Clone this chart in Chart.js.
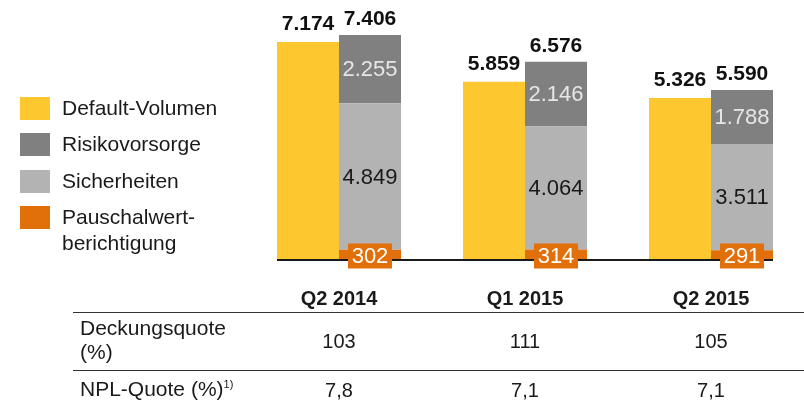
<!DOCTYPE html>
<html>
<head>
<meta charset="utf-8">
<script src="https://cdn.jsdelivr.net/npm/chart.js@4/dist/chart.umd.min.js"></script>
<style>
  html, body { margin: 0; padding: 0; background: #fff; }
  body { width: 804px; height: 401px; position: relative; overflow: hidden;
         font-family: "Liberation Sans", Arial, sans-serif; color: #1a1a1a; }
  #c { position: absolute; left: 0; top: 0; }
  .leg { position: absolute; left: 20px; width: 30px; height: 23px; }
  .legt { position: absolute; left: 62px; font-size: 21px; line-height: 24px; white-space: nowrap; }
  .t { position: absolute; font-size: 20px; line-height: 24px; white-space: nowrap; }
  .rl { font-size: 21px; }
  .c { transform: translateX(-50%); }
  .b { font-weight: bold; }
  .hl { position: absolute; left: 73px; right: 0; height: 0; border-top: 1.5px solid #333; }
  sup { font-size: 11px; vertical-align: 0; position: relative; top: -8px; }
</style>
</head>
<body>
<canvas id="c" width="804" height="401"></canvas>
<div id="legend"></div>
<div id="table"></div>
<script>
// ---- data ----
const categories = ['Q2 2014', 'Q1 2015', 'Q2 2015'];
const defaultVolumen = [7174, 5859, 5326];
const pauschalwert = [302, 314, 291];
const sicherheiten = [4849, 4064, 3511];
const risikovorsorge = [2255, 2146, 1788];
const stackTotals = [7406, 6576, 5590];
const deckungsquote = ['103', '111', '105'];
const nplQuote = ['7,8', '7,1', '7,1'];
const seriesNames = ['Default-Volumen', 'Risikovorsorge', 'Sicherheiten', 'Pauschalwert-\nberichtigung'];

const COL_YELLOW = '#FDC82F';
const COL_DARK = '#808080';
const COL_LIGHT = '#B3B3B3';
const COL_ORANGE = '#E1700A';

function fmt(v) {
  const s = String(Math.round(v));
  return s.replace(/\B(?=(\d{3})+(?!\d))/g, '.');
}

// ---- legend (HTML) ----
const legendColors = [COL_YELLOW, COL_DARK, COL_LIGHT, COL_ORANGE];
const legTops = [97, 133, 170, 206];
const legEl = document.getElementById('legend');
seriesNames.forEach((n, i) => {
  const sq = document.createElement('div');
  sq.className = 'leg';
  sq.style.top = legTops[i] + 'px';
  sq.style.background = legendColors[i];
  legEl.appendChild(sq);
  n.split('\n').forEach((line, j) => {
    const t = document.createElement('div');
    t.className = 'legt';
    t.style.top = (legTops[i] - 1 + j * 26) + 'px';
    t.textContent = line;
    legEl.appendChild(t);
  });
});

// ---- chart ----
const labelPlugin = {
  id: 'labels',
  afterDatasetsDraw(chart) {
    const ctx = chart.ctx;
    const mY = chart.getDatasetMeta(0);
    const mP = chart.getDatasetMeta(1);
    const mS = chart.getDatasetMeta(2);
    const mR = chart.getDatasetMeta(3);
    ctx.save();
    // axis line
    const first = mY.data[0], last = mR.data[mR.data.length - 1];
    const yb = chart.chartArea.bottom;
    ctx.strokeStyle = '#1a1a1a';
    ctx.lineWidth = 2;
    ctx.beginPath();
    ctx.moveTo(first.x - first.width / 2, yb + 1);
    ctx.lineTo(last.x + last.width / 2, yb + 1);
    ctx.stroke();

    ctx.textAlign = 'center';
    ctx.font = 'bold 21px "Liberation Sans", Arial, sans-serif';
    ctx.fillStyle = '#111';
    ctx.textBaseline = 'alphabetic';
    mY.data.forEach((b, i) => ctx.fillText(fmt(defaultVolumen[i]), b.x, b.y - 12));
    mR.data.forEach((b, i) => ctx.fillText(fmt(stackTotals[i]), b.x, b.y - 10));

    ctx.font = '22px "Liberation Sans", Arial, sans-serif';
    ctx.textBaseline = 'middle';
    ctx.fillStyle = '#E6E6E6';
    mR.data.forEach((b, i) => ctx.fillText(fmt(risikovorsorge[i]), b.x, (b.y + b.base) / 2 + 1));
    ctx.fillStyle = '#1a1a1a';
    mS.data.forEach((b, i) => ctx.fillText(fmt(sicherheiten[i]), b.x, (b.y + b.base) / 2 + 1));
    mP.data.forEach((b, i) => {
      const cy = b.base - 3;
      ctx.fillStyle = COL_ORANGE;
      ctx.fillRect(b.x - 22, cy - 12.5, 44, 25);
      ctx.fillStyle = '#fff';
      ctx.fillText(fmt(pauschalwert[i]), b.x, cy + 1);
    });
    ctx.restore();
  }
};

const chart = new Chart(document.getElementById('c'), {
  type: 'bar',
  data: {
    labels: categories,
    datasets: [
      { label: 'Default-Volumen', data: defaultVolumen, backgroundColor: COL_YELLOW, stack: 'a' },
      { label: 'Pauschalwertberichtigung', data: pauschalwert, backgroundColor: COL_ORANGE, stack: 'b' },
      { label: 'Sicherheiten', data: sicherheiten, backgroundColor: COL_LIGHT, stack: 'b' },
      { label: 'Risikovorsorge', data: risikovorsorge, backgroundColor: COL_DARK, stack: 'b' }
    ]
  },
  options: {
    responsive: false,
    animation: false,
    devicePixelRatio: 1,
    layout: { padding: { left: 246, right: 0, top: 17, bottom: 142 } },
    datasets: { bar: { categoryPercentage: 2 / 3, barPercentage: 1, borderWidth: 0 } },
    scales: {
      x: { display: false, stacked: true },
      y: { display: false, stacked: true, min: 0, max: 8000 }
    },
    plugins: { legend: { display: false }, tooltip: { enabled: false } }
  },
  plugins: [labelPlugin]
});

// ---- table (HTML), columns aligned to chart categories ----
const tbl = document.getElementById('table');
const xs = categories.map((_, i) => chart.scales.x.getPixelForValue(i));
function add(cls, text, x, y, html) {
  const d = document.createElement('div');
  d.className = 't ' + cls;
  d.style.left = x + 'px';
  d.style.top = y + 'px';
  if (html) d.innerHTML = text; else d.textContent = text;
  tbl.appendChild(d);
}
categories.forEach((c, i) => add('c b', c, xs[i], 286));
const l1 = document.createElement('div'); l1.className = 'hl'; l1.style.top = '312px'; tbl.appendChild(l1);
add('rl', 'Deckungsquote', 80, 316);
add('rl', '(%)', 80, 340);
deckungsquote.forEach((v, i) => add('c', v, xs[i], 329));
const l2 = document.createElement('div'); l2.className = 'hl'; l2.style.top = '370px'; tbl.appendChild(l2);
add('rl', 'NPL-Quote (%)<sup>1)</sup>', 80, 377, true);
nplQuote.forEach((v, i) => add('c', v, xs[i], 378));
</script>
</body>
</html>
